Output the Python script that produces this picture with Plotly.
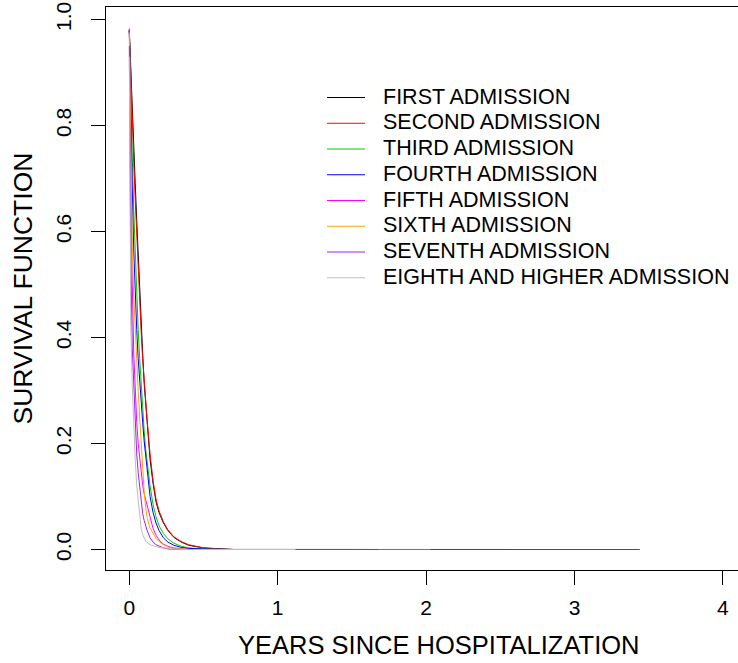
import plotly.graph_objects as go

# ---------------- data ----------------
SERIES = ["FIRST ADMISSION", "SECOND ADMISSION", "THIRD ADMISSION", "FOURTH ADMISSION",
          "FIFTH ADMISSION", "SIXTH ADMISSION", "SEVENTH ADMISSION",
          "EIGHTH AND HIGHER ADMISSION"]
COLORS = ["#000000", "#FF0000", "#00CD00", "#0000FF", "#FF00FF", "#FFA500", "#A020F0", "#BEBEBE"]

TIME = [0, 0.005, 0.01, 0.02, 0.03, 0.04, 0.05, 0.06, 0.07, 0.08, 0.09, 0.10, 0.11, 0.12,
        0.14, 0.16, 0.18, 0.20, 0.23, 0.26, 0.30, 0.35, 0.40, 0.50, 0.60, 0.70]

S_FIRST = [0.98, 0.94, 0.90, 0.83, 0.76, 0.69, 0.62, 0.55, 0.49, 0.43, 0.37, 0.315, 0.275, 0.24,
           0.17, 0.125, 0.09, 0.07, 0.05, 0.036, 0.023, 0.014, 0.008, 0.003, 0.001, 0.0]
S_SECOND = [0.98, 0.93, 0.89, 0.81, 0.73, 0.66, 0.59, 0.525, 0.465, 0.41, 0.36, 0.315, 0.28, 0.245,
            0.18, 0.13, 0.095, 0.073, 0.052, 0.037, 0.024, 0.015, 0.009, 0.003, 0.001, 0.0]
S_THIRD = [0.98, 0.91, 0.85, 0.74, 0.64, 0.555, 0.48, 0.415, 0.36, 0.31, 0.265, 0.225, 0.19, 0.165,
           0.12, 0.085, 0.062, 0.045, 0.03, 0.02, 0.012, 0.006, 0.003, 0.001, 0.0, 0.0]
S_FOURTH = [0.98, 0.89, 0.82, 0.68, 0.565, 0.48, 0.415, 0.36, 0.315, 0.275, 0.24, 0.205, 0.175, 0.148,
            0.10, 0.07, 0.05, 0.036, 0.022, 0.014, 0.008, 0.004, 0.002, 0.001, 0.0, 0.0]
S_FIFTH = [0.983, 0.86, 0.74, 0.50, 0.37, 0.285, 0.24, 0.20, 0.17, 0.145, 0.122, 0.105, 0.094, 0.083,
           0.06, 0.04, 0.027, 0.018, 0.010, 0.006, 0.003, 0.001, 0.0, 0.0, 0.0, 0.0]
S_SIXTH = [0.975, 0.87, 0.78, 0.57, 0.48, 0.41, 0.35, 0.30, 0.25, 0.20, 0.15, 0.11, 0.08, 0.06,
           0.04, 0.03, 0.021, 0.015, 0.009, 0.005, 0.002, 0.001, 0.0, 0.0, 0.0, 0.0]
S_SEVENTH = [0.95, 0.75, 0.55, 0.38, 0.30, 0.24, 0.18, 0.145, 0.115, 0.088, 0.068, 0.055, 0.045, 0.036,
             0.022, 0.014, 0.009, 0.006, 0.003, 0.001, 0.0, 0.0, 0.0, 0.0, 0.0, 0.0]
S_EIGHTH = [0.93, 0.55, 0.42, 0.31, 0.23, 0.17, 0.12, 0.09, 0.06, 0.04, 0.028, 0.02, 0.016, 0.013,
            0.009, 0.007, 0.005, 0.004, 0.003, 0.002, 0.001, 0.0, 0.0, 0.0, 0.0, 0.0]
SURV = [S_FIRST, S_SECOND, S_THIRD, S_FOURTH, S_FIFTH, S_SIXTH, S_SEVENTH, S_EIGHTH]
END_TIME = [2.55, 3.44, 2.03, 1.60, 1.50, 1.55, 1.68, 1.12]

X_TICKS = [0, 1, 2, 3, 4]
Y_TICKS = [0.0, 0.2, 0.4, 0.6, 0.8, 1.0]
Y_TICKTEXT = ["0.0", "0.2", "0.4", "0.6", "0.8", "1.0"]

# ---------------- layout constants ----------------
W, H = 738, 663
ML, MR, MT, MB = 106, 0, 7, 93
PW, PH = W - ML - MR, H - MT - MB
FONT = "Liberation Sans, Arial, Helvetica, sans-serif"


def px_to_paper_x(px):
    return (px - ML) / PW


def px_to_paper_y(py):
    return (H - MB - py) / PH


fig = go.Figure()
for name, col, s, tend in zip(SERIES, COLORS, SURV, END_TIME):
    fig.add_trace(go.Scatter(x=TIME + [tend], y=s + [0.0], mode="lines", name=name,
                             line=dict(color=col, width=1), showlegend=False,
                             hoverinfo="skip"))

# manual legend (R-style, no box)
leg_x0, leg_x1, leg_tx = 327, 365, 381
leg_y0, leg_dy = 97.5, 25.75
shapes = []
annotations = []
for i, (name, col) in enumerate(zip(SERIES, COLORS)):
    yy = leg_y0 + i * leg_dy
    shapes.append(dict(type="line", xref="paper", yref="paper",
                       x0=px_to_paper_x(leg_x0), x1=px_to_paper_x(leg_x1),
                       y0=px_to_paper_y(yy), y1=px_to_paper_y(yy),
                       line=dict(color=col, width=1)))
    annotations.append(dict(text=name, xref="paper", yref="paper",
                            x=px_to_paper_x(leg_tx), y=px_to_paper_y(yy - 1),
                            xanchor="left", yanchor="middle", showarrow=False,
                            font=dict(family=FONT, size=21.5, color="black")))

# axis titles
annotations.append(dict(text="YEARS SINCE HOSPITALIZATION", xref="x", yref="paper",
                        x=2.087, y=px_to_paper_y(645), xanchor="center", yanchor="middle",
                        showarrow=False, font=dict(family=FONT, size=25.5, color="black")))
annotations.append(dict(text="SURVIVAL FUNCTION", xref="paper", yref="paper",
                        x=px_to_paper_x(22), y=0.5, xanchor="center", yanchor="middle",
                        textangle=-90, showarrow=False,
                        font=dict(family=FONT, size=26.5, color="black")))

fig.update_layout(
    width=W, height=H,
    margin=dict(l=ML, r=MR, t=MT, b=MB, pad=0),
    paper_bgcolor="white", plot_bgcolor="white",
    showlegend=False,
    shapes=shapes, annotations=annotations,
    xaxis=dict(range=[-0.157, 4.102], tickmode="array", tickvals=X_TICKS,
               ticktext=[str(v) for v in X_TICKS],
               showgrid=False, zeroline=False, showline=True, linecolor="black",
               linewidth=1, mirror=True, ticks="outside", ticklen=14, tickcolor="black",
               tickwidth=1, ticklabelstandoff=5,
               tickfont=dict(family=FONT, size=21, color="black")),
    yaxis=dict(range=[-0.0387, 1.0235], tickmode="array", tickvals=Y_TICKS,
               ticktext=Y_TICKTEXT, tickangle=-90,
               showgrid=False, zeroline=False, showline=True, linecolor="black",
               linewidth=1, mirror=False, ticks="outside", ticklen=14, tickcolor="black",
               tickwidth=1, ticklabelstandoff=12,
               tickfont=dict(family=FONT, size=21, color="black")),
)

fig.write_html("out.html")
